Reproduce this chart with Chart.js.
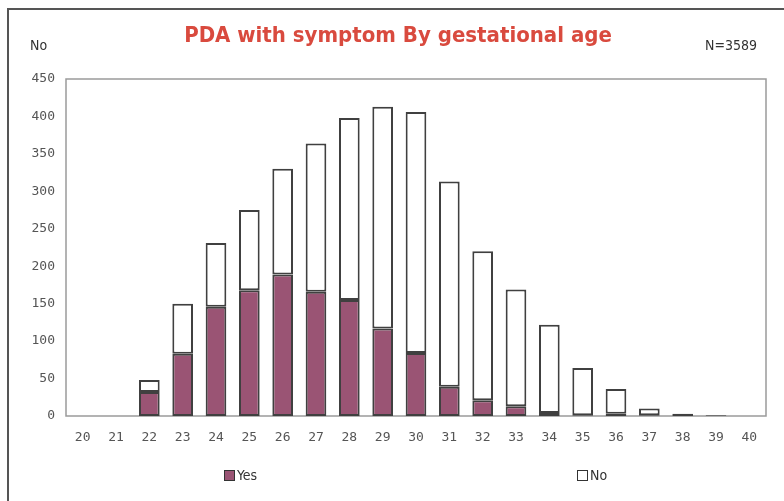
<!DOCTYPE html>
<html>
<head>
<meta charset="utf-8">
<script src="https://cdn.jsdelivr.net/npm/chart.js@4/dist/chart.umd.min.js"></script>
<style>
  html, body { margin: 0; padding: 0; background: #fff; }
  #wrap { position: relative; width: 784px; height: 501px; overflow: hidden; background: #fff; }
  #frame { position: absolute; left: 7px; top: 8px; width: 800px; height: 520px; border-top: 2px solid #555; border-left: 2px solid #555; }
  canvas { position: absolute; left: 0; top: 0; }
  .txt { position: absolute; white-space: nowrap; }
  #title { left: 0; width: 796px; text-align: center; top: 22px; font-family: "DejaVu Sans Condensed", "DejaVu Sans", sans-serif; font-weight: bold; font-size: 22px; color: #d94a3e; }
  #ylab { left: 30px; top: 37px; font-family: "DejaVu Sans Condensed", "DejaVu Sans", sans-serif; font-size: 14px; color: #333; }
  #ntot { left: 705px; top: 37px; font-family: "DejaVu Sans Condensed", "DejaVu Sans", sans-serif; font-size: 14px; color: #333; }
  .leg { position: absolute; top: 467px; font-family: "DejaVu Sans Condensed", "DejaVu Sans", sans-serif; font-size: 14px; color: #333; display: flex; align-items: center; }
  .sw { display: inline-block; width: 9px; height: 9px; border: 1.5px solid #333; margin-right: 2px; }
</style>
</head>
<body>
<div id="wrap">
  <div id="frame"></div>
  <canvas id="c" width="784" height="501"></canvas>
  <div class="txt" id="title">PDA with symptom By gestational age</div>
  <div class="txt" id="ylab">No</div>
  <div class="txt" id="ntot">N=3589</div>
  <div class="leg" style="left:224px;"><span class="sw" style="background:#9a5474;"></span>Yes</div>
  <div class="leg" style="left:577px;"><span class="sw" style="background:#fff;"></span>No</div>
</div>
<script>
const categories = ["20","21","22","23","24","25","26","27","28","29","30","31","32","33","34","35","36","37","38","39","40"];
const yesValues = [null, null, 32, 83, 146, 168, 189, 166, 155, 117, 84, 39, 21, 13, 4, 1, 3, 1, 0, 1, null];
const noValues  = [null, null, 16, 67, 85, 107, 141, 198, 243, 296, 322, 274, 199, 156, 118, 63, 33, 9, 3, 0, null];
const yTicks = [0, 50, 100, 150, 200, 250, 300, 350, 400, 450];

const frameBorder = {
  id: 'frameBorder',
  beforeDatasetsDraw(chart) {
    const a = chart.chartArea, ctx = chart.ctx;
    ctx.save();
    ctx.strokeStyle = '#9a9a9a';
    ctx.lineWidth = 1.5;
    ctx.strokeRect(a.left, a.top, a.right - a.left, a.bottom - a.top);
    ctx.restore();
  }
};

new Chart(document.getElementById('c'), {
  type: 'bar',
  data: {
    labels: categories,
    datasets: [
      { label: 'Yes', data: yesValues, backgroundColor: '#9a5474', borderColor: '#404040', borderWidth: 2, borderSkipped: false, categoryPercentage: 1, barPercentage: 0.62 },
      { label: 'No', data: noValues, backgroundColor: '#ffffff', borderColor: '#404040', borderWidth: 2, borderSkipped: false, categoryPercentage: 1, barPercentage: 0.62 }
    ]
  },
  options: {
    responsive: false,
    animation: false,
    layout: { padding: { left: 0, right: 18, top: 79, bottom: 55 } },
    plugins: { legend: { display: false }, tooltip: { enabled: false }, title: { display: false } },
    scales: {
      x: {
        stacked: true,
        grid: { display: false, drawTicks: false },
        border: { display: false },
        ticks: { padding: 14, color: '#555', font: { family: '"DejaVu Sans Mono", monospace', size: 13 } },
        afterFit(s) { s.height = 30; }
      },
      y: {
        stacked: true,
        min: 0, max: 450,
        grid: { display: false, drawTicks: false },
        border: { display: false },
        afterBuildTicks(s) { s.ticks = yTicks.map(v => ({ value: v })); },
        ticks: { padding: 11, color: '#555', font: { family: '"DejaVu Sans Mono", monospace', size: 13 } },
        afterFit(s) { s.width = 66; }
      }
    }
  },
  plugins: [frameBorder]
});
</script>
</body>
</html>
